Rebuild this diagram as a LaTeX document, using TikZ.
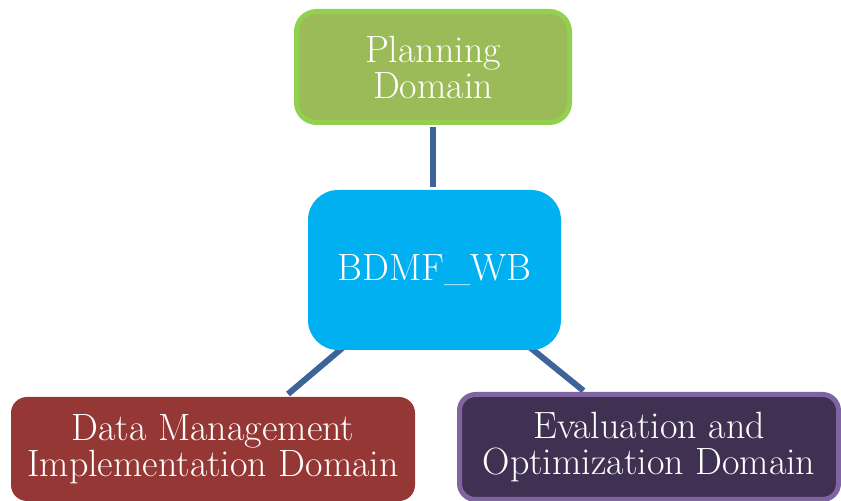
\documentclass[tikz,border=0pt]{standalone}
\usetikzlibrary{positioning,backgrounds}
\definecolor{cgreen}{HTML}{9BBB59}
\definecolor{cgreenln}{HTML}{92D050}
\definecolor{ccyan}{HTML}{00B0F0}
\definecolor{cred}{HTML}{953735}
\definecolor{cpurple}{HTML}{403152}
\definecolor{cpurpleln}{HTML}{8064A2}
\definecolor{clink}{HTML}{3D6399}

\begin{document}
\begin{tikzpicture}[x=0.5pt,y=-0.5pt,
  box/.style={rounded corners=10pt,align=center,text=white,inner sep=0pt,
              font=\fontsize{19}{18}\selectfont},
  link/.style={draw=clink,line width=3pt}]
\useasboundingbox (0,0) rectangle (841,501);
\node[box,fill=cgreen,draw=cgreenln,line width=2.5pt,minimum width=136.5pt,
      minimum height=55.5pt] (plan) at (433,67) {Planning\\Domain};
\node[box,fill=ccyan,rounded corners=15pt,minimum width=126.5pt,
      minimum height=80pt] (wb) at (434.5,270) {BDMF\_WB};
\node[box,fill=cred,rounded corners=8pt,minimum width=202pt,
      minimum height=52pt] (dm) at (213,449) {Data Management\\Implementation Domain};
\node[box,fill=cpurple,draw=cpurpleln,line width=2.5pt,rounded corners=8pt,
      minimum width=189.5pt,minimum height=52.5pt] (ev) at (649,447)
      {Evaluation and\\Optimization Domain};
\begin{scope}[on background layer]
\draw[link,shorten <=1pt,shorten >=1.5pt] (plan.south) -- (plan.south |- wb.north);
\draw[link,shorten >=2pt] (wb.center) -- ([xshift=36pt]dm.north);
\draw[link,shorten >=1pt] (wb.center) -- ([xshift=-32pt]ev.north);
\end{scope}
\end{tikzpicture}
\end{document}
